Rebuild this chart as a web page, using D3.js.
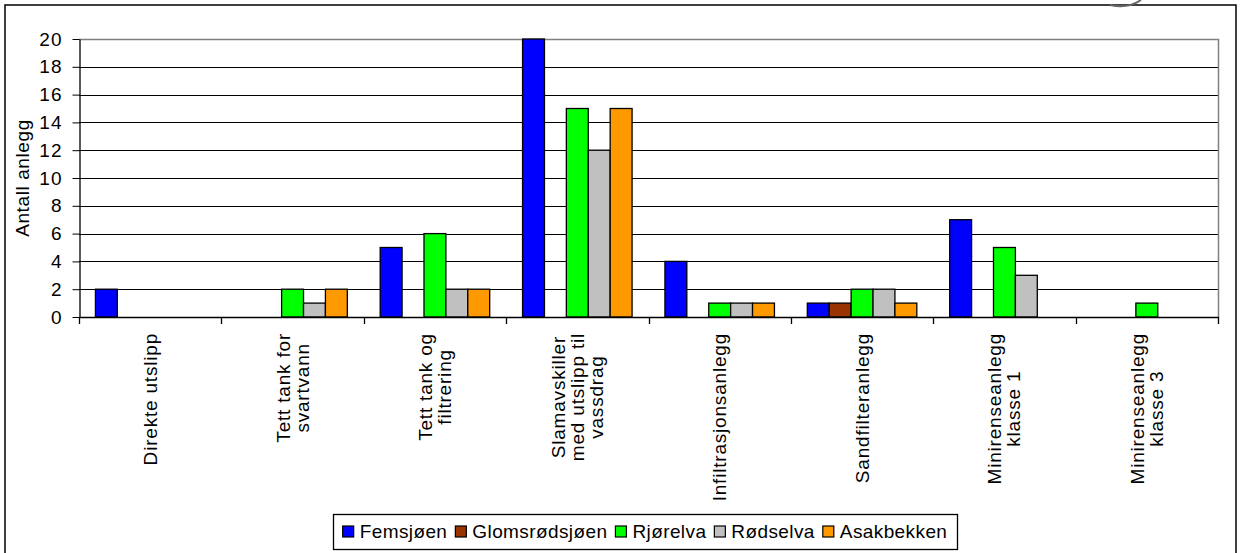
<!DOCTYPE html>
<html>
<head>
<meta charset="utf-8">
<script src="https://cdn.jsdelivr.net/npm/d3@7"></script>
<style>
  body { margin: 0; background: #fff; }
  svg { display: block; }
  text { font-family: Arial, "Liberation Sans", sans-serif; fill: #000; }
</style>
</head>
<body>
<svg id="chart" width="1240" height="553"></svg>
<script>
// Treatment types (x categories); "\n" marks a line break in the label
const categories = [
  "Direkte utslipp",
  "Tett tank for\nsvartvann",
  "Tett tank og\nfiltrering",
  "Slamavskiller\nmed utslipp til\nvassdrag",
  "Infiltrasjonsanlegg",
  "Sandfilteranlegg",
  "Minirenseanlegg\nklasse 1",
  "Minirenseanlegg\nklasse 3"
];

// Catchments (series)
const seriesNames = ["Femsjøen", "Glomsrødsjøen", "Rjørelva", "Rødselva", "Asakbekken"];

// Number of plants per treatment type, one array per catchment
const femsjoen      = [2, 0, 5, 20, 4, 1, 7, 0];
const glomsrodsjoen = [0, 0, 0, 0, 0, 1, 0, 0];
const rjorelva      = [0, 2, 6, 15, 1, 2, 5, 1];
const rodselva      = [0, 1, 2, 12, 1, 2, 3, 0];
const asakbekken    = [0, 2, 2, 15, 1, 1, 0, 0];

const yTicks = [0, 2, 4, 6, 8, 10, 12, 14, 16, 18, 20];
const yTitle = "Antall anlegg";

const seriesValues = [femsjoen, glomsrodsjoen, rjorelva, rodselva, asakbekken];
const seriesColors = ["#0000FF", "#993300", "#00FF00", "#C0C0C0", "#FF9900"];

const svg = d3.select("#chart");
const plot = { left: 79, right: 1218, top: 39, bottom: 317 };

// Outer chart frame
svg.append("rect")
  .attr("x", 5).attr("y", 5).attr("width", 1231).attr("height", 560)
  .attr("fill", "none").attr("stroke", "#000").attr("stroke-width", 1.5);

// Stray stroke poking in above the frame
svg.append("path")
  .attr("d", "M1110,5 Q1128,9 1141,0")
  .attr("fill", "none").attr("stroke", "#666").attr("stroke-width", 2);

const x = d3.scaleBand().domain(d3.range(categories.length))
  .range([plot.left, plot.right]).paddingInner(0).paddingOuter(0);
const xs = d3.scaleBand().domain(d3.range(seriesNames.length))
  .range([0, x.bandwidth()]).paddingInner(0).paddingOuter(0.75);
const y = d3.scaleLinear().domain([0, 20]).range([plot.bottom, plot.top]);

// Horizontal gridlines
svg.append("g").selectAll("line")
  .data(yTicks.filter(t => t > 0 && t < 20))
  .join("line")
  .attr("x1", plot.left).attr("x2", plot.right)
  .attr("y1", d => Math.round(y(d)) + 0.5).attr("y2", d => Math.round(y(d)) + 0.5)
  .attr("stroke", "#000").attr("stroke-width", 1);

// Plot area border (top and right)
svg.append("path")
  .attr("d", `M${plot.left},${Math.round(y(20)) + 0.5}H${plot.right + 0.5}V${plot.bottom}`)
  .attr("fill", "none").attr("stroke", "#808080").attr("stroke-width", 1.5);

// Bars
seriesValues.forEach((vals, si) => {
  svg.append("g").selectAll("rect")
    .data(vals.map((v, ci) => ({ v, ci })).filter(d => d.v > 0))
    .join("rect")
    .attr("x", d => x(d.ci) + xs(si))
    .attr("width", xs.bandwidth())
    .attr("y", d => y(d.v))
    .attr("height", d => y(0) - y(d.v))
    .attr("fill", seriesColors[si])
    .attr("stroke", "#000").attr("stroke-width", 1.3);
});

// Y axis
const yAxis = svg.append("g")
  .attr("transform", `translate(${plot.left + 0.5},0)`)
  .call(d3.axisLeft(y).tickValues(yTicks).tickSize(7).tickPadding(10).tickSizeOuter(0));
yAxis.select(".domain").attr("stroke", "#000").attr("stroke-width", 1.3);
yAxis.selectAll(".tick line").attr("stroke", "#000");
yAxis.selectAll(".tick text")
  .attr("font-size", 19).attr("letter-spacing", "1px")
  .attr("font-family", "Arial, 'Liberation Sans', sans-serif").attr("fill", "#000");

// X axis line and category divider ticks
svg.append("line")
  .attr("x1", plot.left).attr("x2", plot.right + 1)
  .attr("y1", plot.bottom + 0.5).attr("y2", plot.bottom + 0.5)
  .attr("stroke", "#000").attr("stroke-width", 1.5);
svg.append("g").selectAll("line")
  .data(d3.range(categories.length + 1))
  .join("line")
  .attr("x1", i => Math.round(plot.left + i * x.step()) + 0.5)
  .attr("x2", i => Math.round(plot.left + i * x.step()) + 0.5)
  .attr("y1", plot.bottom).attr("y2", plot.bottom + 7)
  .attr("stroke", "#000").attr("stroke-width", 1.3);

// Rotated category labels, lines centred, block ending just below the axis
const labelTop = 333, lineH = 19;
categories.forEach((label, ci) => {
  const lines = label.split("\n");
  const cx = x(ci) + x.bandwidth() / 2;
  const g = svg.append("g");
  const texts = lines.map(ln =>
    g.append("text")
      .attr("font-size", 19)
      .attr("letter-spacing", "0.8px")
      .attr("text-anchor", "middle")
      .attr("dominant-baseline", "central")
      .text(ln));
  const maxLen = d3.max(texts, t => t.node().getComputedTextLength());
  texts.forEach((t, li) => {
    const lx = cx + (li - (lines.length - 1) / 2) * lineH;
    const ly = labelTop + maxLen / 2;
    t.attr("transform", `translate(${lx},${ly}) rotate(-90)`);
  });
});

// Y axis title
svg.append("text")
  .attr("transform", `translate(22,${(plot.top + plot.bottom) / 2}) rotate(-90)`)
  .attr("text-anchor", "middle")
  .attr("dominant-baseline", "central")
  .attr("font-size", 19)
  .attr("letter-spacing", "0.6px")
  .text(yTitle);

// Legend
const legend = { left: 333, right: 957, top: 514, bottom: 549 };
svg.append("rect")
  .attr("x", legend.left + 0.5).attr("y", legend.top + 0.5)
  .attr("width", legend.right - legend.left).attr("height", legend.bottom - legend.top)
  .attr("fill", "#fff").attr("stroke", "#000").attr("stroke-width", 1.3);
const lg = svg.append("g");
let cursor = 0;
const markerSize = 11, legendMid = (legend.top + legend.bottom) / 2;
seriesNames.forEach((name, si) => {
  const item = lg.append("g");
  item.append("rect")
    .attr("x", cursor).attr("y", legendMid - markerSize / 2)
    .attr("width", markerSize).attr("height", markerSize)
    .attr("fill", seriesColors[si]).attr("stroke", "#000").attr("stroke-width", 1.2);
  const t = item.append("text")
    .attr("x", cursor + markerSize + 6).attr("y", legendMid)
    .attr("dominant-baseline", "central")
    .attr("font-size", 19)
    .attr("letter-spacing", "0.4px")
    .text(name);
  cursor += markerSize + 6 + t.node().getComputedTextLength() + 8;
});
const totalW = cursor - 8;
lg.attr("transform", `translate(${(legend.left + legend.right - totalW) / 2},0)`);
</script>
</body>
</html>
